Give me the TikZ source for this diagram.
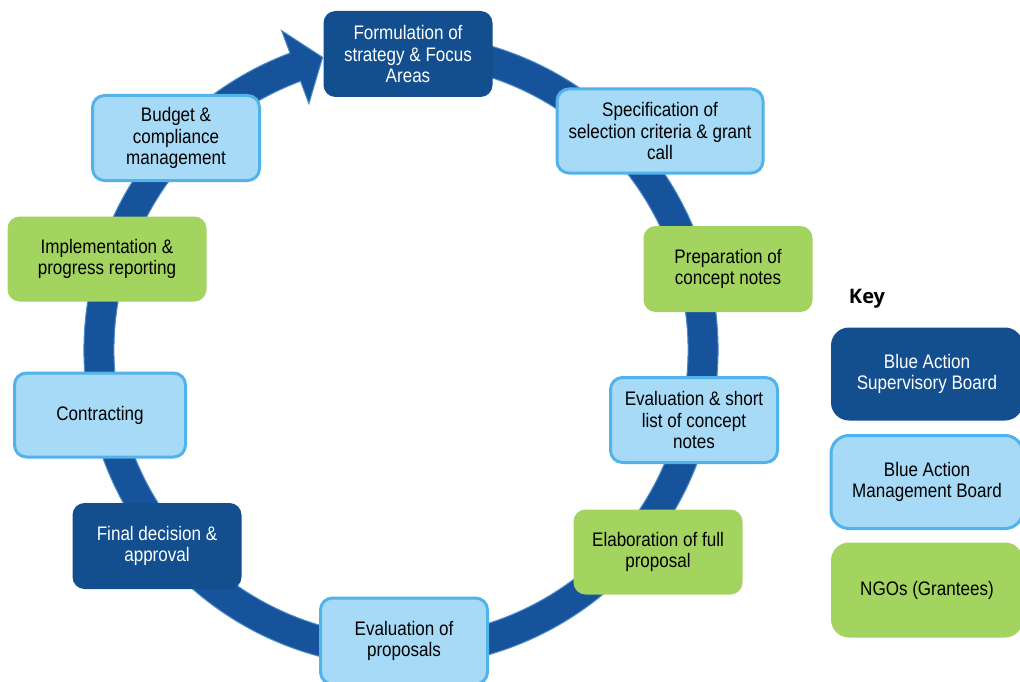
\documentclass[tikz,border=0pt]{standalone}
\usepackage{fontspec}
\newfontfamily\boxfont{Liberation Sans}[FakeStretch=0.87]
\newfontfamily\keyfont{Open Sans}
\definecolor{darkb}{HTML}{134F8E}
\definecolor{lightb}{HTML}{A7DAF6}
\definecolor{lightborder}{HTML}{52B2EA}
\definecolor{greenb}{HTML}{A3D45F}
\definecolor{ringblue}{HTML}{16539A}
\definecolor{ringedge}{HTML}{4A8CCB}
\begin{document}
\begin{tikzpicture}[x=1pt,y=1pt,
  box/.style={rounded corners=12pt, align=center, inner sep=2pt,
    font=\boxfont\fontsize{19.6pt}{21.5pt}\selectfont},
  darkbox/.style={box, fill=darkb, text=white},
  lightbox/.style={box, fill=lightb, draw=lightborder, line width=3pt},
  greenbox/.style={box, fill=greenb},
  keybox/.style={rounded corners=18pt, minimum width=192pt}
]
\useasboundingbox (0,0) rectangle (1020,-682);
% cycle ring arrow
\begin{scope}[shift={(401,-350)}]
\fill[ringblue, draw=ringedge, line width=1pt]
  (78:317) arc[start angle=78, end angle=-249.5, radius=317]
  -- (-249.5:341) -- (-255:303) -- (-249.5:263) -- (-249.5:287)
  arc[start angle=-249.5, end angle=78, radius=287] -- cycle;
\end{scope}
% process boxes
\node[darkbox, minimum width=169pt, minimum height=86pt] (form) at (408,-54) {Formulation of\\strategy \& Focus\\Areas};
\node[lightbox, minimum width=206pt, minimum height=84pt] (spec) at (660,-131) {Specification of\\selection criteria \& grant\\call};
\node[greenbox, minimum width=169pt, minimum height=86pt] (prep) at (728,-269) {Preparation of\\concept notes};
\node[lightbox, minimum width=167pt, minimum height=85pt] (evs) at (694,-420) {Evaluation \& short\\list of concept\\notes};
\node[greenbox, minimum width=169pt, minimum height=85pt] (elab) at (658,-552) {Elaboration of full\\proposal};
\node[lightbox, minimum width=167pt, minimum height=86pt] (evp) at (404,-641) {Evaluation of\\proposals};
\node[darkbox, minimum width=169pt, minimum height=86pt] (fin) at (157,-546) {Final decision \&\\approval};
\node[lightbox, minimum width=171pt, minimum height=84pt] (contr) at (100,-415) {Contracting};
\node[greenbox, minimum width=199pt, minimum height=85pt] (impl) at (107,-259) {Implementation \&\\progress reporting};
\node[lightbox, minimum width=167pt, minimum height=85pt] (budg) at (176,-138) {Budget \&\\compliance\\management};
% key
\node[font=\keyfont\bfseries\fontsize{20pt}{24pt}\selectfont] (key) at (867,-299) {Key};
\node[darkbox, keybox, minimum height=93pt] (k1) at (927,-374) {Blue Action\\Supervisory Board};
\node[lightbox, keybox, minimum height=93pt] (k2) at (927,-482) {Blue Action\\Management Board};
\node[greenbox, keybox, minimum height=95pt] (k3) at (927,-590) {NGOs (Grantees)};
\end{tikzpicture}
\end{document}
